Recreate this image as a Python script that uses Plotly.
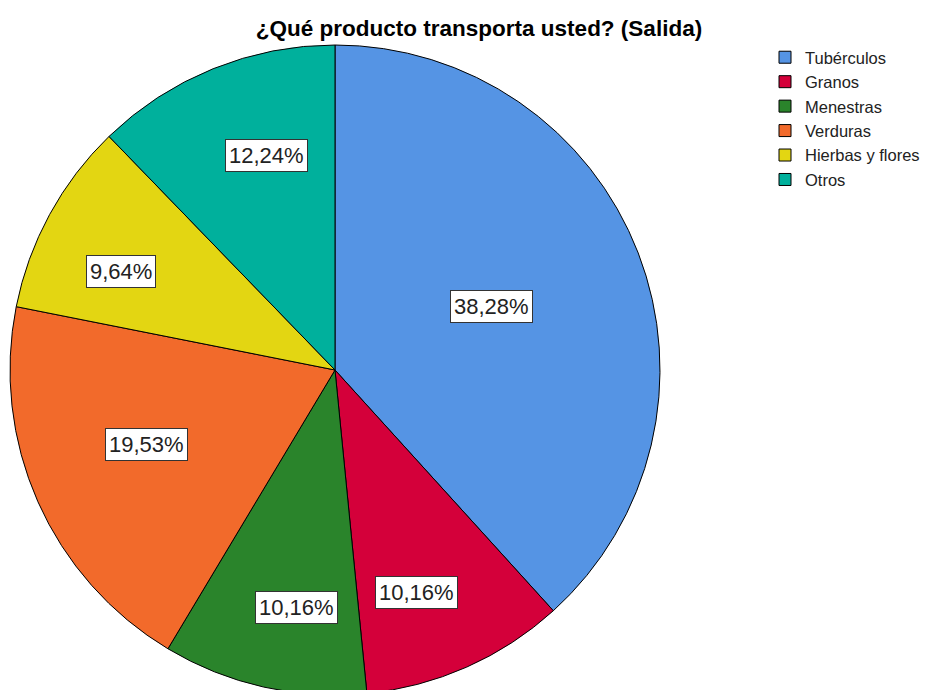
import math
import plotly.graph_objects as go

# ==================================================
# Data
# ==================================================

categories = ["Tubérculos", "Granos", "Menestras", "Verduras", "Hierbas y flores", "Otros"]

percent = [38.28, 10.16, 10.16, 19.53, 9.64, 12.24]

colors = ["#5594E4", "#D4003A", "#2A842B", "#F26A2B", "#E3D612", "#00B09C"]

# label placement: distance from centre (fraction of radius) and
# angular nudge (degrees) away from the slice mid-angle
label_r = [0.52, 0.73, 0.74, 0.625, 0.724, 0.692]
label_da = [-0.8, 3.8, -3.5, 2.4, -3.8, 4.4]

W, H = 936, 690
TOP = 37
BOTTOM = 3

# pie placement in figure pixels (page body adds an 8px offset)
plot_h = H - TOP - BOTTOM
R = plot_h / 2
cx = 327
cy = TOP + R

fig = go.Figure()

fig.add_trace(
    go.Pie(
        labels=categories,
        values=percent,
        sort=False,
        direction="clockwise",
        rotation=0,
        textinfo="none",
        hoverinfo="label+percent",
        marker=dict(colors=colors, line=dict(color="#000000", width=1)),
        domain=dict(x=[(cx - R) / W, (cx + R) / W], y=[0, 1]),
    )
)

# ==================================================
# Boxed percentage labels
# ==================================================

total = sum(percent)
start = 0.0
for val, fr, da in zip(percent, label_r, label_da):
    mid = start + val / total * 360 / 2
    start += val / total * 360
    a = math.radians(mid + da)
    px = cx + fr * R * math.sin(a)
    py = cy - fr * R * math.cos(a)
    fig.add_annotation(
        x=px / W,
        y=1 - (py - TOP) / plot_h,
        xref="paper",
        yref="paper",
        xanchor="center",
        yanchor="middle",
        text=f"{val:.2f}%".replace(".", ","),
        showarrow=False,
        font=dict(family="Liberation Sans, Arial", size=22, color="#222222"),
        bgcolor="#FFFFFF",
        bordercolor="#333333",
        borderwidth=1,
        borderpad=3,
    )

# ==================================================
# Layout
# ==================================================

fig.update_layout(
    width=W,
    height=H,
    paper_bgcolor="#FFFFFF",
    plot_bgcolor="#FFFFFF",
    margin=dict(l=0, r=0, t=TOP, b=BOTTOM),
    title=dict(
        text="¿Qué producto transporta usted? (Salida)",
        x=471 / W,
        xanchor="center",
        y=1 - 20 / H,
        yanchor="middle",
        font=dict(family="Liberation Sans, Arial", size=22.5, color="#000000", weight="bold"),
    ),
    legend=dict(
        x=757 / W,
        xanchor="left",
        y=1 + (TOP - 32) / plot_h,
        yanchor="top",
        font=dict(family="Liberation Sans, Arial", size=16.5, color="#222222"),
        traceorder="normal",
        bgcolor="rgba(0,0,0,0)",
    ),
    showlegend=True,
)

fig.write_html("out.html")
